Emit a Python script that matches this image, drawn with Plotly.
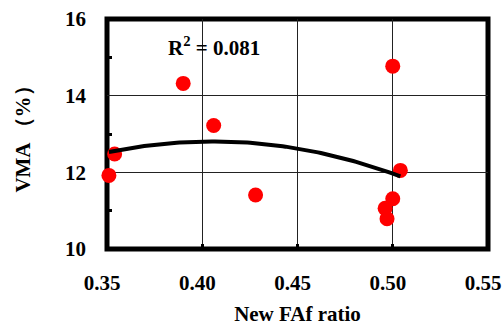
import numpy as np
import plotly.graph_objects as go

fa_ratio = [0.390, 0.500, 0.406, 0.354, 0.351, 0.428, 0.504, 0.500, 0.496, 0.497]
vma = [14.32, 14.77, 13.22, 12.48, 11.92, 11.41, 12.05, 11.31, 11.06, 10.79]
x_ticks = [0.35, 0.40, 0.45, 0.50, 0.55]
x_tick_labels = ["0.35", "0.40", "0.45", "0.50", "0.55"]
x_minor_ticks = [0.40, 0.45, 0.50]
y_ticks = [10, 12, 14, 16]
y_tick_labels = ["10", "12", "14", "16"]
y_minor_ticks = [11, 13, 15]

coef = np.polyfit(fa_ratio, vma, 2)
xs = np.linspace(min(fa_ratio), max(fa_ratio), 100)
ys = np.polyval(coef, xs)

font_fam = "Liberation Serif"
fnt = dict(family=font_fam, size=21, color="black", weight="bold")

fig = go.Figure()
fig.add_trace(go.Scatter(x=fa_ratio, y=vma, mode="markers", cliponaxis=False,
                         marker=dict(color="#ff0000", size=15), showlegend=False))
fig.add_trace(go.Scatter(x=xs, y=ys, mode="lines", cliponaxis=False,
                         line=dict(color="black", width=4), showlegend=False))

fig.add_annotation(x=0.406, y=15.27, text="<b>R<sup>2</sup> = 0.081</b>", showarrow=False,
                   font=fnt)

fig.add_shape(type="rect", xref="paper", yref="paper", x0=0, y0=0, x1=1, y1=1,
              line=dict(color="black", width=5), layer="below")

fig.update_layout(
    width=504, height=326,
    margin=dict(l=107, r=16, t=19, b=77),
    paper_bgcolor="white", plot_bgcolor="white",
    font=fnt,
    xaxis=dict(range=[0.35, 0.55], tickvals=x_ticks,
               ticktext=["<b>" + t + "</b>" for t in x_tick_labels],
               showgrid=True, gridcolor="#222", gridwidth=1, zeroline=False,
               ticks="outside", ticklen=15, tickwidth=1, tickcolor="rgba(0,0,0,0)",
               tickfont=fnt, automargin=False, ticklabelshift=-5,
               ticklabeloverflow="allow",
               minor=dict(tickvals=x_minor_ticks, ticks="inside", ticklen=5,
                          tickwidth=3, tickcolor="black", showgrid=False),
               title=dict(text="<b>New FAf ratio</b>", standoff=16, font=fnt)),
    yaxis=dict(range=[10, 16], tickvals=y_ticks,
               ticktext=["<b>" + t + "</b>" for t in y_tick_labels],
               showgrid=True, gridcolor="#222", gridwidth=1, zeroline=False,
               ticks="", tickfont=fnt, ticklabelstandoff=20, automargin=False,
               minor=dict(tickvals=y_minor_ticks, ticks="inside", ticklen=5,
                          tickwidth=3, tickcolor="black", showgrid=False),
               title=dict(text="<b>VMA （%）</b>", standoff=28, font=fnt)),
)

fig.write_html("out.html")
